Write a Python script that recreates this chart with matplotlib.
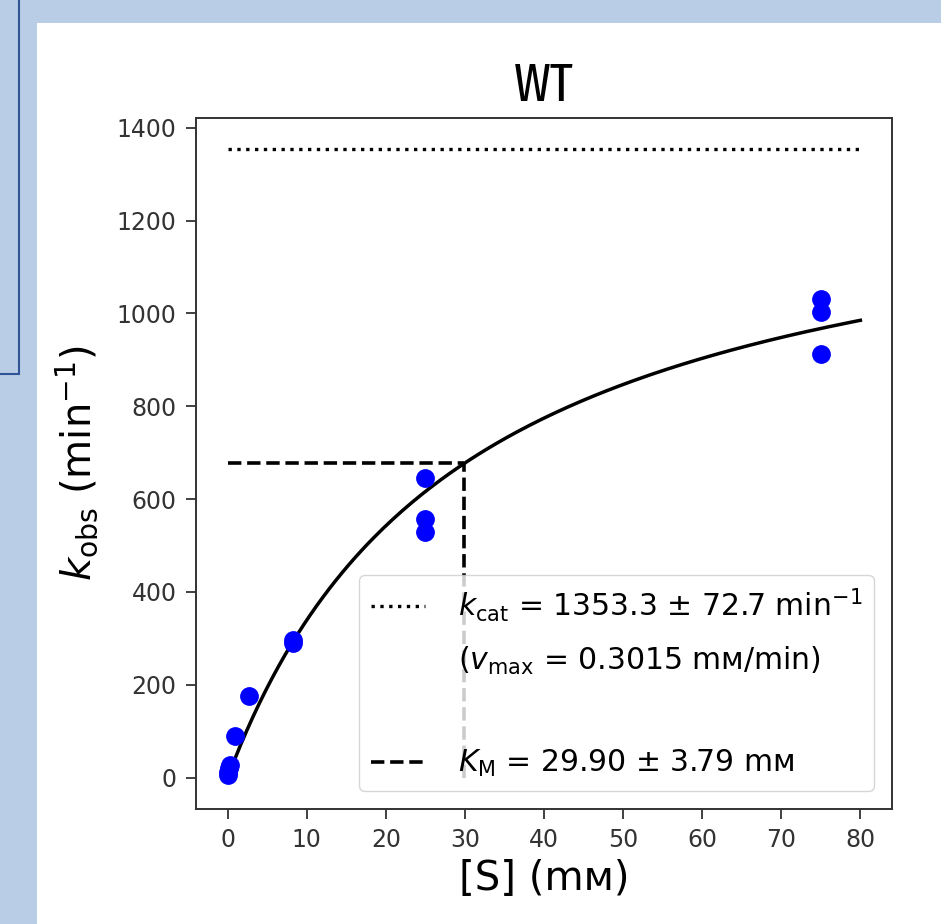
import numpy as np
import matplotlib
matplotlib.use("Agg")
import matplotlib.pyplot as plt
from matplotlib.lines import Line2D
from matplotlib.patches import Rectangle

# measured substrate concentrations (mM) and observed rates (1/min)
S = [0.0, 0.1, 0.2, 0.3, 0.9, 2.7, 8.3, 8.3, 25, 25, 25, 75, 75, 75]
k_obs = [5, 12, 20, 28, 90, 175, 290, 296, 645, 558, 530, 1030, 1003, 913]

# fitted Michaelis-Menten parameters
kcat = 1353.3
kcat_err = 72.7
vmax = 0.3015
KM = 29.90
KM_err = 3.79
S_max = 80

xticks = [0, 10, 20, 30, 40, 50, 60, 70, 80]
yticks = [0, 200, 400, 600, 800, 1000, 1200, 1400]

slide_blue = "#b9cde6"

fig = plt.figure(figsize=(9.41, 9.24), dpi=100, facecolor=slide_blue)

# slide background pieces (drawn below the axes)
fig.patches.append(Rectangle((37 / 941, 0), 1, 1 - 23 / 924, transform=fig.transFigure,
                             facecolor="white", edgecolor="none", zorder=-2))
fig.patches.append(Rectangle((-0.05, 1 - 374 / 924), 0.05 + 19 / 941, 0.5, transform=fig.transFigure,
                             facecolor="none", edgecolor="#2f5597", linewidth=1.5, zorder=-1))

ax = fig.add_axes([196 / 941, 1 - 809 / 924, 696 / 941, 691 / 924])

S_fit = np.linspace(0, S_max, 200)
ax.plot(S_fit, kcat * S_fit / (KM + S_fit), color="black", linewidth=2.5, zorder=3)
ax.plot(S, k_obs, "o", color="blue", markersize=12.5, zorder=4)
ax.plot([0, S_max], [kcat, kcat], ":", color="black", linewidth=2.4)
ax.plot([0, KM], [kcat / 2, kcat / 2], "--", color="black", linewidth=2.6)
ax.plot([KM, KM], [0, kcat / 2], "--", color="black", linewidth=2.6)

ax.set_xticks(xticks)
ax.set_yticks(yticks)
ax.tick_params(labelsize=17, length=7, width=1.3, pad=7, colors="#333333", labelcolor="#333333")
for sp in ax.spines.values():
    sp.set_linewidth(1.4)
    sp.set_color("#333333")

ax.set_xlabel("[S] (mᴍ)", fontsize=29, labelpad=5)
ax.set_ylabel(r"$k_{\mathrm{obs}}$ (min$^{-1}$)", fontsize=29, labelpad=11.5)
ax.set_title("WT", fontsize=38.5, pad=12.5, family=["Fira Sans Extra Condensed", "DejaVu Sans"])

handles = [
    Line2D([], [], linestyle=":", color="black", linewidth=2.4),
    Line2D([], [], linestyle="none"),
    Line2D([], [], linestyle="none"),
    Line2D([], [], linestyle="--", color="black", linewidth=2.6),
]
labels = [
    rf"$k_{{\mathrm{{cat}}}}$ = {kcat:.1f} ± {kcat_err:.1f} min$^{{-1}}$",
    rf"($v_{{\mathrm{{max}}}}$ = {vmax:.4f} mᴍ/min)",
    " ",
    rf"$K_{{\mathrm{{M}}}}$ = {KM:.2f} ± {KM_err:.2f} mᴍ",
]
ax.legend(handles, labels, loc="lower right", fontsize=21.5, handlelength=1.8,
          handletextpad=1.1, labelspacing=0.7, borderaxespad=0.6)

fig.savefig("out.png", dpi=100, facecolor=fig.get_facecolor())
